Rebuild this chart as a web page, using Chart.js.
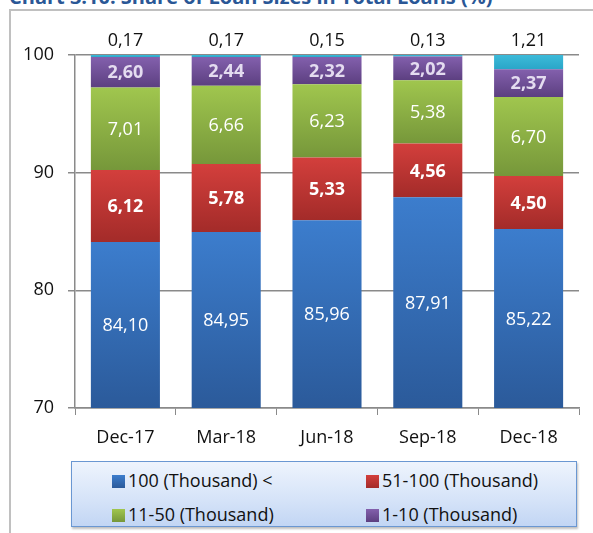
<!DOCTYPE html>
<html>
<head>
<meta charset="utf-8">
<script src="https://cdn.jsdelivr.net/npm/chart.js@4"></script>
<style>
  body { margin: 0; width: 593px; height: 533px; overflow: hidden; background: #fff; font-family: 'Open Sans', sans-serif; position: relative; }
  #title { position: absolute; left: 9px; top: -15px; font-size: 20px; line-height: 24px; font-weight: bold; color: #2a5796; white-space: nowrap; }
  #frame { position: absolute; left: 9px; top: 9px; width: 620px; height: 600px; border: 2px solid #c0c0c0; }
  #myChart { position: absolute; left: 0; top: 0; }
  #legend { position: absolute; left: 71px; top: 461px; width: 504px; height: 64px; border: 1.5px solid #6a97d2;
            background: linear-gradient(to bottom, #eef4fd 0%, #d5e3f8 60%, #c2d6f4 100%); box-shadow: 1px 2px 2px rgba(0,0,0,0.25); }
  .item { position: absolute; font-size: 18px; color: #111; white-space: nowrap; line-height: 20px; }
  .item i { display: inline-block; width: 13px; height: 13px; margin-right: 3px; vertical-align: -1px; }
</style>
</head>
<body>
<div id="title">Chart 3.10: Share of Loan Sizes in Total Loans (%)</div>
<div id="frame"></div>
<canvas id="myChart" width="593" height="460"></canvas>
<div id="legend"></div>
<script>
const categories = ['Dec-17', 'Mar-18', 'Jun-18', 'Sep-18', 'Dec-18'];
const over100    = [84.10, 84.95, 85.96, 87.91, 85.22];
const from51     = [6.12, 5.78, 5.33, 4.56, 4.50];
const from11     = [7.01, 6.66, 6.23, 5.38, 6.70];
const from1      = [2.60, 2.44, 2.32, 2.02, 2.37];
const under1     = [0.17, 0.17, 0.15, 0.13, 1.21];
const yTicks     = [70, 80, 90, 100];

const seriesNames = ['100 (Thousand) <', '51-100 (Thousand)', '11-50 (Thousand)', '1-10 (Thousand)', '< 1 (Thousand)'];
const allSeries = [over100, from51, from11, from1, under1];
const colors = [
  ['#3c7dcd', '#2b5a9a'],
  ['#d33f3c', '#a32b29'],
  ['#a0c64e', '#76973a'],
  ['#8360ad', '#5c3f80'],
  ['#3cbad9', '#2aa6c8']
];

function segGradient(c, i) {
  const chart = c.chart;
  if (!chart.chartArea || c.dataIndex === undefined) return colors[i][1];
  const y = chart.scales.y;
  let lo = 0;
  for (let k = 0; k < i; k++) lo += allSeries[k][c.dataIndex];
  const hi = lo + allSeries[i][c.dataIndex];
  const yTop = y.getPixelForValue(Math.min(hi, 100));
  const yBot = y.getPixelForValue(Math.max(lo, 70));
  if (!(yBot > yTop)) return colors[i][1];
  const g = chart.ctx.createLinearGradient(0, yTop, 0, yBot);
  g.addColorStop(0, colors[i][0]);
  g.addColorStop(1, colors[i][1]);
  return g;
}

const fmt = v => v.toFixed(2).replace('.', ',');

const valueLabels = {
  id: 'valueLabels',
  afterDatasetsDraw(chart) {
    const ctx = chart.ctx;
    const area = chart.chartArea;
    ctx.save();
    ctx.textAlign = 'center';
    chart.data.datasets.forEach((ds, i) => {
      const meta = chart.getDatasetMeta(i);
      meta.data.forEach((el, j) => {
        const txt = fmt(ds.data[j]);
        if (i === 4) {
          ctx.font = '18px "Open Sans"';
          ctx.fillStyle = '#111';
          ctx.textBaseline = 'bottom';
          ctx.fillText(txt, el.x, el.y - 5);
          return;
        }
        const top = Math.max(el.y, area.top);
        const bot = Math.min(el.base, area.bottom);
        const bold = (i === 1 || i === 3);
        ctx.font = (bold ? 'bold ' : '') + '18px "Open Sans"';
        ctx.fillStyle = i === 3 ? '#e4dcf0' : '#ffffff';
        ctx.textBaseline = 'middle';
        ctx.fillText(txt, el.x, (top + bot) / 2 + 1);
      });
    });
    ctx.restore();
  }
};

const ctx = document.getElementById('myChart');

new Chart(ctx, {
  type: 'bar',
  data: {
    labels: categories,
    datasets: allSeries.map((d, i) => ({
      label: seriesNames[i],
      data: d,
      backgroundColor: c => segGradient(c, i),
      borderWidth: 0,
      barPercentage: 1,
      categoryPercentage: 0.685
    }))
  },
  options: {
    responsive: false,
    animation: false,
    layout: { padding: { top: 55, right: 14, left: 0, bottom: 0 } },
    plugins: { legend: { display: false }, tooltip: { enabled: false } },
    scales: {
      x: {
        stacked: true,
        grid: { drawOnChartArea: false, drawTicks: true, tickLength: 7, color: '#8a8a8a' },
        border: { color: '#8a8a8a', width: 1.5 },
        ticks: { color: '#111', font: { family: 'Open Sans', size: 18 }, padding: 12 },
        afterFit: s => { s.height = 52; }
      },
      y: {
        stacked: true,
        min: 70,
        max: 100,
        afterBuildTicks: s => { s.ticks = yTicks.map(v => ({ value: v })); },
        grid: { color: '#8a8a8a', lineWidth: 1.5, tickLength: 7 },
        border: { color: '#8a8a8a', width: 1.5 },
        ticks: { color: '#111', font: { family: 'Open Sans', size: 18 }, padding: 14 },
        afterFit: s => { s.width = 75; }
      }
    }
  },
  plugins: [valueLabels]
});

// legend box
const legendPos = [[40, 8], [294, 8], [40, 42], [294, 42]];
const legendEl = document.getElementById('legend');
legendPos.forEach((p, i) => {
  const d = document.createElement('div');
  d.className = 'item';
  d.style.left = p[0] + 'px';
  d.style.top = p[1] + 'px';
  d.innerHTML = '<i style="background:linear-gradient(' + colors[i][0] + ',' + colors[i][1] + ')"></i>';
  d.appendChild(document.createTextNode(seriesNames[i]));
  legendEl.appendChild(d);
});
</script>
</body>
</html>
